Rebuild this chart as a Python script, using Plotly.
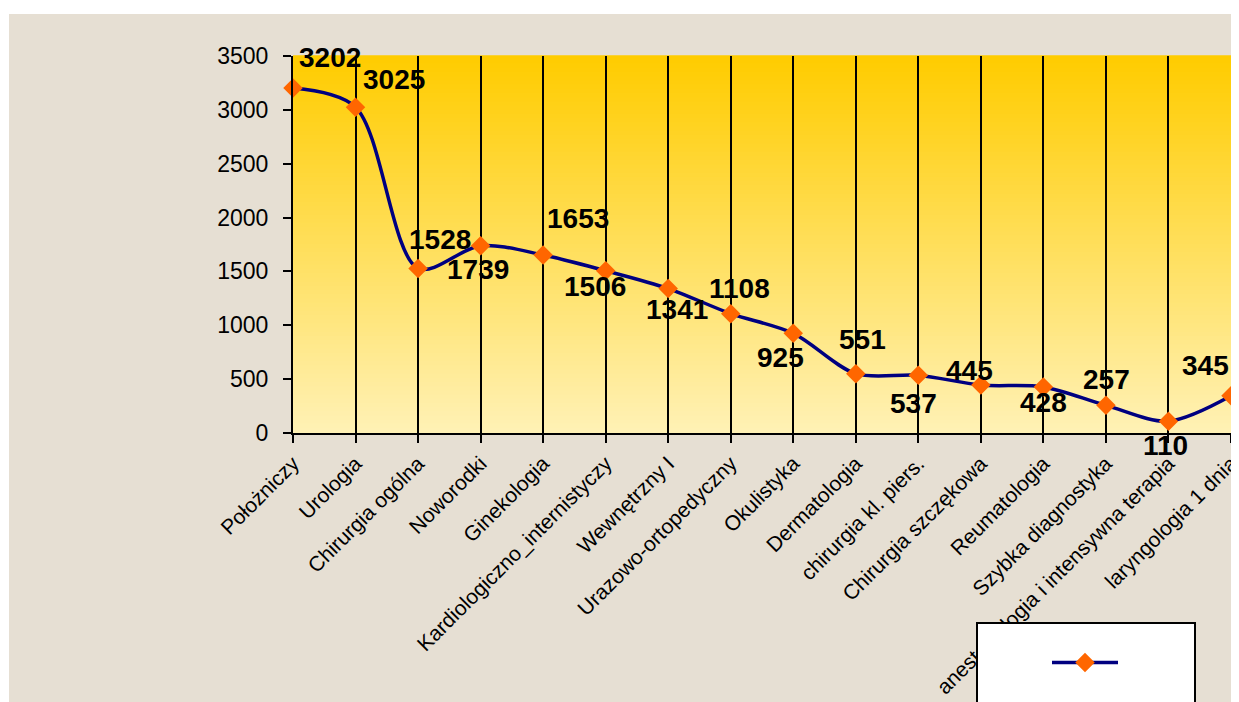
import plotly.graph_objects as go

categories = ["Położniczy", "Urologia", "Chirurgia ogólna", "Noworodki", "Ginekologia",
              "Kardiologiczno_internistyczy", "Wewnętrzny I", "Urazowo-ortopedyczny",
              "Okulistyka", "Dermatologia", "chirurgia kl. piers.", "Chirurgia szczękowa",
              "Reumatologia", "Szybka diagnostyka", "anestezjologia i intensywna terapia",
              "laryngologia 1 dnia"]
values = [3202, 3025, 1528, 1739, 1653, 1506, 1341, 1108, 925, 551, 537, 445, 428, 257, 110, 345]

# label offsets in pixels (dx, dy)
label_dx = [37, 38, 22, -3, 35, -11, 9, 9, -13, 7, -5, -11, 0, 1, -3, -26]
label_dy = [31, 28, 29, -24, 36, -16, -21, 25, -24, 34, -28, 15, -16, 26, -24, 30]

OFF = 8  # page body margin
W, H = 1239 - 2 * OFF, 702 - OFF
L, T = 293 - OFF, 56 - OFF
B = 702 - 433
R = 0
pw, ph = W - L - R, H - T - B

def px(xp):
    return (xp - OFF - L) / pw

def py(yp):
    return (H - B - (yp - OFF)) / ph

fig = go.Figure()
fig.add_trace(go.Scatter(
    x=categories, y=values, mode="lines+markers", name=" ",
    line=dict(color="#000080", width=3.5, shape="spline", smoothing=0.9),
    marker=dict(symbol="diamond", size=15, color="#FF6600"),
    cliponaxis=False, showlegend=True,
))

shapes = []
# beige background
shapes.append(dict(type="rect", xref="paper", yref="paper", layer="below",
                   x0=px(9), x1=px(1300), y0=py(760), y1=py(14),
                   fillcolor="#E6DFD3", line=dict(width=0)))
# gradient plot background
N = 90
top = (255, 204, 0)
bot = (255, 241, 180)
for i in range(N):
    t = i / (N - 1)
    c = tuple(round(top[k] + (bot[k] - top[k]) * t) for k in range(3))
    shapes.append(dict(type="rect", xref="paper", yref="paper", layer="below",
                       x0=0, x1=1, y0=1 - (i + 1) / N, y1=1 - i / N + 0.002,
                       fillcolor="rgb(%d,%d,%d)" % c, line=dict(width=0)))
# legend box
shapes.append(dict(type="rect", xref="paper", yref="paper", layer="above",
                   x0=px(977), x1=px(1195), y0=py(730), y1=py(623),
                   fillcolor="white", line=dict(color="black", width=2)))

annotations = []
for c, v, dx, dy in zip(categories, values, label_dx, label_dy):
    annotations.append(dict(x=c, y=v, xref="x", yref="y", text="<b>%d</b>" % v,
                            showarrow=False, xshift=dx, yshift=dy,
                            font=dict(family="Arial, Liberation Sans", size=28, color="black")))

fig.update_layout(
    autosize=False, width=W, height=H,
    margin=dict(l=L, r=R, t=T, b=B, pad=0, autoexpand=False),
    paper_bgcolor="white", plot_bgcolor="rgba(0,0,0,0)",
    shapes=shapes, annotations=annotations,
    font=dict(family="Arial, Liberation Sans", color="black"),
    legend=dict(x=px(1047), y=py(663), xanchor="left", yanchor="middle",
                bgcolor="rgba(0,0,0,0)", borderwidth=0, itemwidth=66,
                font=dict(size=14)),
    xaxis=dict(type="category", range=[0, len(categories) - 1],
               showgrid=True, gridcolor="black", gridwidth=2,
               showline=True, linecolor="black", linewidth=2,
               ticks="outside", ticklen=8, tickwidth=2, tickcolor="black",
               tickangle=-45, tickfont=dict(size=21, family="Arial, Liberation Sans")),
    yaxis=dict(range=[0, 3500], dtick=500, showgrid=False, zeroline=False,
               showline=True, linecolor="black", linewidth=2,
               ticks="outside", ticklen=8, tickwidth=2, tickcolor="black",
               ticklabelstandoff=10,
               tickfont=dict(size=23, family="Arial, Liberation Sans")),
)

fig.write_html("out.html", config={"responsive": False})
